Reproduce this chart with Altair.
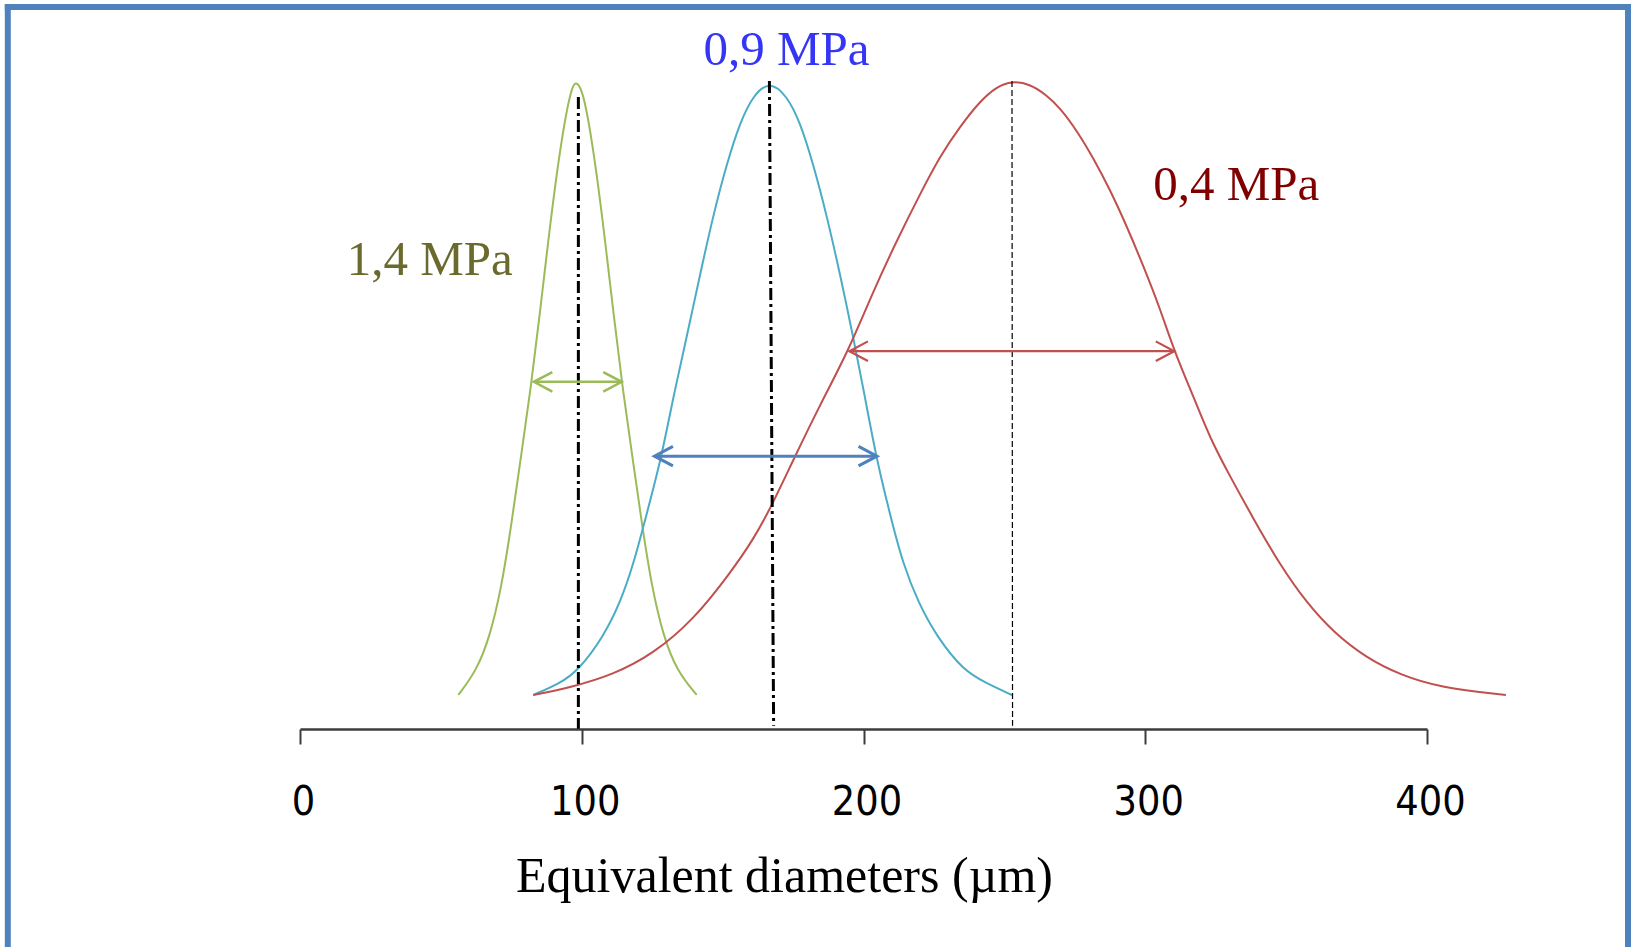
import altair as alt
import pandas as pd

# ---------------- data ----------------
SERIES = ["1,4 MPa", "0,9 MPa", "0,4 MPa"]

# x: equivalent diameter (µm); y: relative frequency (peak = 1)
GREEN_X = [56.2, 62.7, 67.4, 71.6, 75.1, 78.7, 82.2, 85.2, 88.1, 91.1, 94.1, 96.4, 97.8,
           100.0, 102.3, 105.3, 108.3, 111.2, 114.2, 117.7, 121.3, 124.8, 129.0, 133.7, 140.8]
GREEN_Y = [0.0, 0.040, 0.095, 0.177, 0.280, 0.397, 0.510, 0.624, 0.740, 0.850, 0.940, 0.988, 1.0,
           0.988, 0.940, 0.850, 0.740, 0.624, 0.510, 0.397, 0.280, 0.177, 0.095, 0.040, 0.0]

BLUE_X = [82.8, 92.3, 98.8, 107.7, 113.6, 118.3, 123.0, 128.4, 132.5, 137.2, 142.0, 146.7, 151.4,
          156.2, 160.9, 166.6, 172.7, 177.5, 182.2, 186.9, 191.7, 196.4, 200.5, 204.4, 209.4,
          214.1, 219.5, 226.0, 235.4, 243.7, 252.7]
BLUE_Y = [0.0, 0.019, 0.040, 0.095, 0.150, 0.212, 0.294, 0.389, 0.486, 0.582, 0.685, 0.782, 0.864,
          0.933, 0.977, 1.0, 0.977, 0.933, 0.864, 0.782, 0.685, 0.582, 0.486, 0.389, 0.294,
          0.212, 0.150, 0.095, 0.040, 0.019, 0.0]

RED_X = [82.8, 95.8, 111.2, 125.4, 139.6, 152.6, 160.9, 167.4, 175.1, 184.6, 194.6, 203.5, 211.8,
         220.1, 227.2, 234.3, 241.3, 247.3, 252.7, 259.1, 264.4, 269.7, 276.2, 281.6, 287.5,
         293.4, 299.3, 305.2, 310.3, 317.1, 323.0, 330.1, 338.4, 347.8, 357.3, 366.8, 378.6,
         390.4, 404.6, 428.0]
RED_Y = [0.0, 0.012, 0.033, 0.067, 0.122, 0.198, 0.253, 0.308, 0.383, 0.473, 0.560, 0.658, 0.740,
         0.816, 0.878, 0.926, 0.967, 0.991, 1.0, 0.995, 0.979, 0.957, 0.916, 0.874, 0.823,
         0.764, 0.699, 0.630, 0.560, 0.486, 0.418, 0.356, 0.287, 0.212, 0.150, 0.102, 0.060,
         0.033, 0.012, 0.0]

# mean (mode) lines
MEAN_X_TOP = [98.8, 166.6, 252.7]
MEAN_X_BOTTOM = [98.8, 168.1, 252.9]
MEAN_Y_TOP = [0.974, 1.0, 1.0]
MEAN_Y_BOTTOM = [-0.055, -0.05, -0.05]

# width arrows
ARROW_LEFT = [83.0, 125.8, 195.0]
ARROW_RIGHT = [114.2, 204.8, 310.3]
ARROW_Y = [0.510, 0.389, 0.560]

# series labels
LABEL_X = [16.6, 172.7, 302.8]
LABEL_Y = [0.684, 1.026, 0.806]

TICKS = [0, 100, 200, 300, 400]
X_TITLE = "Equivalent diameters (µm)"

# ---------------- styles ----------------
CURVE_COLOR = {"1,4 MPa": "#9BBB59", "0,9 MPa": "#4BACC6", "0,4 MPa": "#C0504D"}
ARROW_COLOR = {"1,4 MPa": "#9BBB59", "0,9 MPa": "#4F81BD", "0,4 MPa": "#C0504D"}
ARROW_WIDTH = {"1,4 MPa": 2.5, "0,9 MPa": 3, "0,4 MPa": 2.2}
LABEL_COLOR = {"1,4 MPa": "#6B6A2E", "0,9 MPa": "#3535F5", "0,4 MPa": "#800000"}
LABEL_ALIGN = {"1,4 MPa": "left", "0,9 MPa": "center", "0,4 MPa": "left"}
MEAN_WIDTH = {"1,4 MPa": 3, "0,9 MPa": 3, "0,4 MPa": 1.2}
MEAN_DASH = {"1,4 MPa": [12, 4, 3, 4], "0,9 MPa": [12, 4, 3, 4], "0,4 MPa": [6, 3]}
BORDER = "#4F81BD"

PLOT_LEFT, PLOT_TOP, PLOT_W, PLOT_H = 300, 81, 1127, 648
TOTAL_W, TOTAL_H = 1633, 947

xs = alt.Scale(domain=[0, 400], nice=False, zero=False)
ys = alt.Scale(domain=[-0.0554, 1.0], nice=False, zero=False)

XAXIS = alt.Axis(
    values=TICKS, format="d", title=X_TITLE, grid=False,
    domainColor="#3C3C3C", domainWidth=2.5, tickColor="#3C3C3C", tickWidth=2,
    tickSize=15,
    labelFont="Liberation Sans Narrow, DejaVu Sans Condensed, Liberation Sans, Arial, sans-serif",
    labelFontSize=41,
    labelColor="#000000", labelBaseline="alphabetic", labelPadding=70,
    labelFlush=False, labelOffset=3, labelOverlap=False,
    titleFont="Liberation Serif", titleFontSize=50, titleFontWeight="normal",
    titleColor="#000000", titleX=484, titleY=162, titleAlign="center",
    titleBaseline="alphabetic",
)


def X(field):
    return alt.X(field, scale=xs, axis=XAXIS)


def Y(field):
    return alt.Y(field, scale=ys, axis=None)


curves = {
    "1,4 MPa": (GREEN_X, GREEN_Y),
    "0,9 MPa": (BLUE_X, BLUE_Y),
    "0,4 MPa": (RED_X, RED_Y),
}

layers = []
for name in SERIES:
    cx, cy = curves[name]
    df = pd.DataFrame({"x": cx, "y": cy})
    layers.append(
        alt.Chart(df).mark_line(color=CURVE_COLOR[name], strokeWidth=2, interpolate="basis")
        .encode(x=X("x:Q"), y=Y("y:Q"))
    )

# mean lines
for i, name in enumerate(SERIES):
    df = pd.DataFrame({"x": [MEAN_X_TOP[i]], "x2": [MEAN_X_BOTTOM[i]],
                       "y": [MEAN_Y_TOP[i]], "y2": [MEAN_Y_BOTTOM[i]]})
    layers.append(
        alt.Chart(df).mark_rule(color="#000000", strokeWidth=MEAN_WIDTH[name],
                                strokeDash=MEAN_DASH[name])
        .encode(x=X("x:Q"), x2="x2:Q", y=Y("y:Q"), y2="y2:Q")
    )

# arrows
LEFT_HEAD = "M 1 -0.53 L 0 0 L 1 0.53"
RIGHT_HEAD = "M -1 -0.53 L 0 0 L -1 0.53"
for i, name in enumerate(SERIES):
    df = pd.DataFrame({"x": [ARROW_LEFT[i]], "x2": [ARROW_RIGHT[i]], "y": [ARROW_Y[i]]})
    layers.append(
        alt.Chart(df).mark_rule(color=ARROW_COLOR[name], strokeWidth=ARROW_WIDTH[name])
        .encode(x=X("x:Q"), x2="x2:Q", y=Y("y:Q"))
    )
    layers.append(
        alt.Chart(df).mark_point(shape=LEFT_HEAD, filled=False, size=1369, opacity=1,
                                 stroke=ARROW_COLOR[name], strokeWidth=ARROW_WIDTH[name])
        .encode(x=X("x:Q"), y=Y("y:Q"))
    )
    layers.append(
        alt.Chart(df).mark_point(shape=RIGHT_HEAD, filled=False, size=1369, opacity=1,
                                 stroke=ARROW_COLOR[name], strokeWidth=ARROW_WIDTH[name])
        .encode(x=X("x2:Q"), y=Y("y:Q"))
    )

# labels
for i, name in enumerate(SERIES):
    df = pd.DataFrame({"x": [LABEL_X[i]], "y": [LABEL_Y[i]], "t": [name]})
    layers.append(
        alt.Chart(df).mark_text(font="Liberation Serif", fontSize=49, color=LABEL_COLOR[name],
                                align=LABEL_ALIGN[name], baseline="alphabetic")
        .encode(x=X("x:Q"), y=Y("y:Q"), text="t:N")
    )

# frame (left, top, right edges of the slide box)
dummy = alt.Data(values=[{}])
bl = 7.8 - PLOT_LEFT
br = 1628 - PLOT_LEFT
bt = 7 - PLOT_TOP
bb = TOTAL_H - PLOT_TOP
layers.append(alt.Chart(dummy).mark_rule(color=BORDER, strokeWidth=6)
              .encode(x=alt.value(bl), y=alt.value(bt - 3), y2=alt.value(bb)))
layers.append(alt.Chart(dummy).mark_rule(color=BORDER, strokeWidth=6)
              .encode(x=alt.value(br), y=alt.value(bt - 3), y2=alt.value(bb)))
layers.append(alt.Chart(dummy).mark_rule(color=BORDER, strokeWidth=6)
              .encode(x=alt.value(bl - 3), x2=alt.value(br + 3), y=alt.value(bt)))

chart = alt.layer(*layers).properties(
    width=PLOT_W, height=PLOT_H,
    autosize=alt.AutoSizeParams(type="none"),
    padding={"left": PLOT_LEFT, "top": PLOT_TOP,
             "right": TOTAL_W - PLOT_LEFT - PLOT_W, "bottom": TOTAL_H - PLOT_TOP - PLOT_H},
    background="#FFFFFF",
).configure_view(stroke="transparent")

chart.save("out.html", embed_options={"renderer": "svg", "actions": False})
